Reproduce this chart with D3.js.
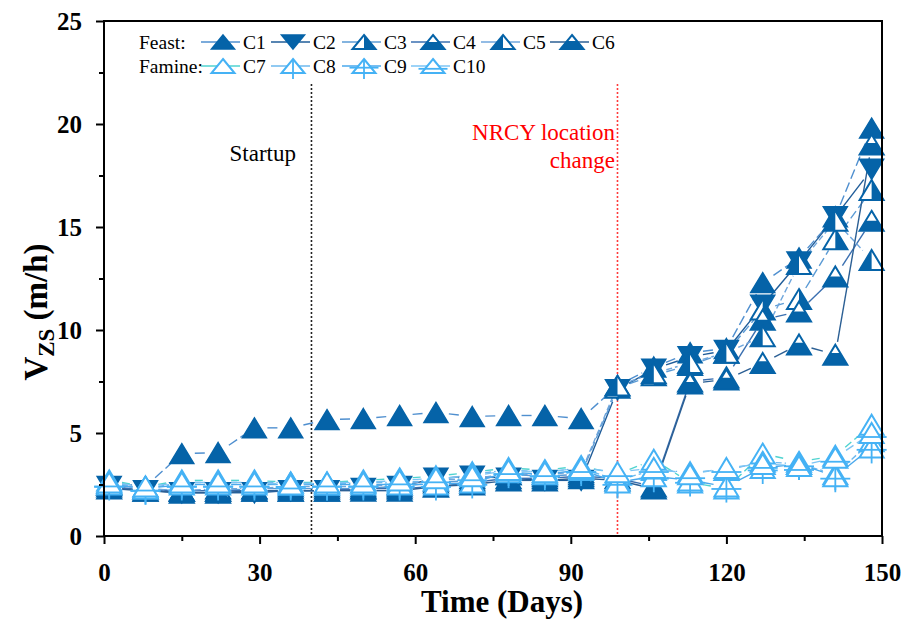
<!DOCTYPE html>
<html>
<head>
<meta charset="utf-8">
<script src="https://cdn.jsdelivr.net/npm/d3@7"></script>
<style>
  html, body { margin: 0; padding: 0; background: #fff; }
  svg { display: block; }
  text { font-family: "Liberation Serif", "Times New Roman", serif; }
</style>
</head>
<body>
<svg id="chart" width="906" height="621"></svg>
<script>
// Sampling days
const days = [1, 8, 15, 22, 29, 36, 43, 50, 57, 64, 71, 78, 85, 92, 99, 106, 113, 120, 127, 134, 141, 148];

// Zone settling velocity (m/h) per column
const C1  = [2.6, 2.4, 4.0, 4.05, 5.25, 5.25, 5.65, 5.7, 5.85, 6.0, 5.8, 5.85, 5.85, 5.7, 7.3, 8.2, 8.9, 9.1, 12.3, 13.5, 15.5, 19.8];
const C2  = [2.4, 2.2, 2.1, 2.1, 2.1, 2.2, 2.2, 2.3, 2.4, 2.8, 2.9, 2.8, 2.7, 2.7, 7.1, 8.1, 8.7, 9.0, 11.2, 13.3, 15.5, 17.8];
const C3  = [2.5, 2.3, 2.2, 2.2, 2.3, 2.3, 2.3, 2.3, 2.4, 2.6, 2.7, 3.0, 2.9, 3.0, 7.2, 7.8, 8.3, 8.9, 11.0, 11.5, 14.4, 16.8];
const C4  = [2.4, 2.2, 2.2, 2.2, 2.2, 2.2, 2.2, 2.3, 2.3, 2.4, 2.6, 2.8, 2.8, 2.9, 2.8, 2.4, 7.5, 7.7, 10.5, 10.9, 12.6, 15.3];
const C5  = [2.5, 2.3, 2.2, 2.3, 2.3, 2.4, 2.4, 2.4, 2.5, 2.7, 2.8, 3.0, 3.0, 3.1, 7.3, 7.9, 8.4, 8.9, 9.7, 13.2, 15.3, 13.4];
const C6  = [2.3, 2.2, 2.1, 2.1, 2.2, 2.2, 2.2, 2.2, 2.2, 2.4, 2.5, 2.7, 2.7, 2.8, 2.7, 2.3, 7.4, 7.6, 8.4, 9.3, 8.8, 19.0];
const C7  = [2.7, 2.4, 2.7, 2.7, 2.7, 2.6, 2.6, 2.7, 2.8, 2.9, 3.1, 3.3, 3.2, 3.4, 3.0, 3.7, 2.6, 2.3, 4.0, 3.6, 3.9, 5.4];
const C8  = [2.6, 2.3, 2.6, 2.6, 2.6, 2.6, 2.5, 2.6, 2.6, 2.7, 3.0, 3.2, 3.1, 3.3, 2.7, 3.2, 3.1, 3.2, 3.6, 3.5, 3.0, 4.6];
const C9  = [2.5, 2.3, 2.5, 2.5, 2.5, 2.5, 2.5, 2.5, 2.5, 2.5, 2.6, 3.1, 3.0, 3.2, 2.6, 2.9, 2.7, 2.4, 3.3, 3.5, 2.9, 4.3];
const C10 = [2.6, 2.4, 2.6, 2.6, 2.6, 2.5, 2.6, 2.6, 2.7, 2.8, 2.9, 3.2, 3.1, 3.3, 3.1, 3.3, 3.0, 3.3, 3.5, 3.4, 3.8, 5.0];

const seriesNames = ["C1", "C2", "C3", "C4", "C5", "C6", "C7", "C8", "C9", "C10"];
const seriesValues = [C1, C2, C3, C4, C5, C6, C7, C8, C9, C10];

// Axis ticks
const xTicks = [0, 15, 30, 45, 60, 75, 90, 105, 120, 135, 150];
const xLabels = [0, 30, 60, 90, 120, 150];
const yTicks = [0, 2.5, 5, 7.5, 10, 12.5, 15, 17.5, 20, 22.5, 25];
const yLabels = [0, 5, 10, 15, 20, 25];

// Event markers
const eventDays = [40, 99];

// Styles for each column
const FEAST = "#0563a8";
const FAMINE = "#45b2f5";
const styles = {
  C1:  {sym: "up",     color: FEAST,  line: "#4f8fcf", dash: "10,4"},
  C2:  {sym: "down",   color: FEAST,  line: "#1f5c99", dash: null},
  C3:  {sym: "right",  color: FEAST,  line: "#5b9bd5", dash: "9,4"},
  C4:  {sym: "bottom", color: FEAST,  line: "#3a6fb0", dash: null},
  C5:  {sym: "left",   color: FEAST,  line: "#6fa6dc", dash: "6,3"},
  C6:  {sym: "bottom2",color: FEAST,  line: "#2b5f94", dash: null},
  C7:  {sym: "open",   color: FAMINE, line: "#4fd3d0", dash: "8,4"},
  C8:  {sym: "vline",  color: FAMINE, line: "#6cb8ee", dash: "6,3"},
  C9:  {sym: "plus",   color: FAMINE, line: "#4aa8ec", dash: null},
  C10: {sym: "hline",  color: FAMINE, line: "#7cc4f4", dash: "9,4"}
};

const svg = d3.select("#chart");
const x = d3.scaleLinear().domain([0, 150]).range([104, 882]);
const y = d3.scaleLinear().domain([0, 25]).range([536, 21]);

// Draws one symbol centred at the origin of group g
function drawSymbol(g, sym, color, w, h) {
  const top = -h / 2, bot = h / 2;
  const tri = [[0, top], [w / 2, bot], [-w / 2, bot]];
  const pts = p => p.map(d => d.join(",")).join(" ");
  if (sym === "up") {
    g.append("polygon").attr("points", pts(tri)).attr("fill", color)
      .attr("stroke", color).attr("stroke-width", 1.5).attr("stroke-linejoin", "miter");
    return;
  }
  if (sym === "down") {
    const dtri = [[0, bot], [w / 2, top], [-w / 2, top]];
    g.append("polygon").attr("points", pts(dtri)).attr("fill", color)
      .attr("stroke", color).attr("stroke-width", 1.5);
    return;
  }
  // outlined triangle with a white body
  g.append("polygon").attr("points", pts(tri)).attr("fill", "#fff");
  let fillPoly = null;
  if (sym === "right") fillPoly = [[0, top], [w / 2, bot], [0, bot]];
  if (sym === "left") fillPoly = [[0, top], [0, bot], [-w / 2, bot]];
  if (sym === "bottom" || sym === "bottom2") {
    const f = sym === "bottom" ? 0.5 : 0.58;
    const yc = bot - f * h;
    const hw = (w / 2) * ((yc - top) / h);
    fillPoly = [[-hw, yc], [hw, yc], [w / 2, bot], [-w / 2, bot]];
  }
  if (fillPoly) g.append("polygon").attr("points", pts(fillPoly)).attr("fill", color);
  g.append("polygon").attr("points", pts(tri)).attr("fill", "none")
    .attr("stroke", color).attr("stroke-width", 2).attr("stroke-linejoin", "miter");
  if (sym === "vline" || sym === "plus") {
    g.append("line").attr("x1", 0).attr("x2", 0).attr("y1", top).attr("y2", bot + 6)
      .attr("stroke", color).attr("stroke-width", 1.8);
  }
  if (sym === "plus") {
    g.append("line").attr("x1", -w / 2 - 3).attr("x2", w / 2 + 3).attr("y1", h * 0.12).attr("y2", h * 0.12)
      .attr("stroke", color).attr("stroke-width", 1.8);
  }
  if (sym === "hline") {
    g.append("line").attr("x1", -w / 2 - 3).attr("x2", w / 2 + 3).attr("y1", h * 0.2).attr("y2", h * 0.2)
      .attr("stroke", color).attr("stroke-width", 1.8);
  }
}

// Event lines
const evColors = ["#222", "#ff3b3b"];
eventDays.forEach((d, i) => {
  svg.append("line")
    .attr("x1", x(d)).attr("x2", x(d))
    .attr("y1", 84).attr("y2", y(0))
    .attr("stroke", evColors[i]).attr("stroke-width", 1.6)
    .attr("stroke-dasharray", "2,2");
});

svg.append("text").attr("x", 296).attr("y", 161).attr("text-anchor", "end")
  .attr("font-size", 23).attr("fill", "#000").text("Startup");
svg.append("text").attr("x", 615).attr("y", 140).attr("text-anchor", "end")
  .attr("font-size", 23).attr("fill", "#ff0000").text("NRCY location");
svg.append("text").attr("x", 615).attr("y", 168).attr("text-anchor", "end")
  .attr("font-size", 23).attr("fill", "#ff0000").text("change");

// Connecting lines, broken just before each symbol
const GAP = 13;
const linesG = svg.append("g");
seriesNames.forEach((name, si) => {
  const st = styles[name];
  const vals = seriesValues[si];
  for (let i = 0; i < days.length - 1; i++) {
    const x1 = x(days[i]), y1 = y(vals[i]), x2 = x(days[i + 1]), y2 = y(vals[i + 1]);
    const dx = x2 - x1, dy = y2 - y1, L = Math.hypot(dx, dy);
    if (L <= 2 * GAP) continue;
    const ux = dx / L, uy = dy / L;
    linesG.append("line")
      .attr("x1", x1 + ux * GAP).attr("y1", y1 + uy * GAP)
      .attr("x2", x2 - ux * GAP).attr("y2", y2 - uy * GAP)
      .attr("stroke", st.line).attr("stroke-width", 1.4)
      .attr("stroke-dasharray", st.dash);
  }
});

// Symbols
const symG = svg.append("g");
seriesNames.forEach((name, si) => {
  const st = styles[name];
  const vals = seriesValues[si];
  days.forEach((d, i) => {
    const g = symG.append("g").attr("transform", `translate(${x(d)},${y(vals[i])})`);
    drawSymbol(g, st.sym, st.color, 24, 20);
  });
});

// Frame
svg.append("rect").attr("x", x(0)).attr("y", y(25))
  .attr("width", x(150) - x(0)).attr("height", y(0) - y(25))
  .attr("fill", "none").attr("stroke", "#000").attr("stroke-width", 2);

// Bottom axis
const xAxis = d3.axisBottom(x).tickValues(xTicks)
  .tickSize(8).tickPadding(19)
  .tickFormat(d => xLabels.includes(d) ? d : "");
const gx = svg.append("g").attr("transform", `translate(0,${y(0)})`).call(xAxis);
gx.select(".domain").remove();
gx.selectAll(".tick line").attr("stroke", "#000").attr("stroke-width", 2)
  .attr("y2", d => xLabels.includes(d) ? 8 : 5);
gx.selectAll(".tick text").attr("font-family", "Liberation Serif")
  .attr("font-size", 25).attr("font-weight", "bold").attr("fill", "#000");

// Left axis
const yAxis = d3.axisLeft(y).tickValues(yTicks)
  .tickSize(8).tickPadding(14)
  .tickFormat(d => yLabels.includes(d) ? d : "");
const gy = svg.append("g").attr("transform", `translate(${x(0)},0)`).call(yAxis);
gy.select(".domain").remove();
gy.selectAll(".tick line").attr("stroke", "#000").attr("stroke-width", 2)
  .attr("x2", d => yLabels.includes(d) ? -8 : -5);
gy.selectAll(".tick text").attr("font-family", "Liberation Serif")
  .attr("font-size", 25).attr("font-weight", "bold").attr("fill", "#000");

// Axis titles
svg.append("text").attr("x", 502).attr("y", 612).attr("text-anchor", "middle")
  .attr("font-size", 31).attr("font-weight", "bold").text("Time (Days)");
const yt = svg.append("text").attr("transform", "translate(47,312) rotate(-90)")
  .attr("text-anchor", "middle").attr("font-size", 33).attr("font-weight", "bold");
yt.append("tspan").text("V");
yt.append("tspan").attr("font-size", 23).attr("dy", 7).text("ZS");
yt.append("tspan").attr("dy", -7).text(" (m/h)");

// Legend
const legend = svg.append("g");
legend.append("text").attr("x", 139).attr("y", 49).attr("font-size", 19.5).text("Feast:");
legend.append("text").attr("x", 139).attr("y", 73).attr("font-size", 19.5).text("Famine:");
const legCx = [223, 293, 364, 433, 503, 572];
seriesNames.forEach((name, si) => {
  const row = si < 6 ? 0 : 1;
  const col = si < 6 ? si : si - 6;
  const cx = legCx[col];
  const cy = row === 0 ? 42 : 66;
  const st = styles[name];
  legend.append("line").attr("x1", cx - 22).attr("x2", cx + 17).attr("y1", cy).attr("y2", cy)
    .attr("stroke", st.line).attr("stroke-width", 1.6);
  const g = legend.append("g").attr("transform", `translate(${cx},${cy})`);
  drawSymbol(g, st.sym, st.color, 23, 14);
  legend.append("text").attr("x", cx + 20).attr("y", cy + 7).attr("font-size", 19.5).text(name);
});
</script>
</body>
</html>
